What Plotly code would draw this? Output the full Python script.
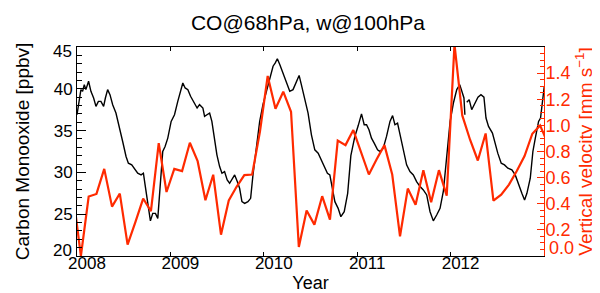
import plotly.graph_objects as go

# ---- CO @ 68 hPa (ppbv) (decimal year, value) ----
co_year = [
    2008.000, 2008.025, 2008.042, 2008.060, 2008.078, 2008.095, 2008.124, 2008.149, 2008.178, 2008.203,
    2008.229, 2008.256, 2008.285, 2008.304, 2008.328, 2008.353, 2008.382, 2008.417, 2008.454, 2008.489,
    2008.525, 2008.550, 2008.586, 2008.615, 2008.650, 2008.686, 2008.711, 2008.729, 2008.758, 2008.786,
    2008.811, 2008.840, 2008.865, 2008.894, 2008.918, 2008.943, 2008.972, 2009.008, 2009.044, 2009.079,
    2009.108, 2009.133, 2009.158, 2009.187, 2009.216, 2009.251, 2009.286, 2009.312, 2009.348, 2009.366,
    2009.394, 2009.420, 2009.444, 2009.473, 2009.498, 2009.527, 2009.552, 2009.580, 2009.608, 2009.634,
    2009.659, 2009.688, 2009.716, 2009.741, 2009.766, 2009.795, 2009.830, 2009.859, 2009.884, 2009.920,
    2009.956, 2009.991, 2010.038, 2010.074, 2010.099, 2010.123, 2010.145, 2010.171, 2010.206, 2010.241,
    2010.278, 2010.313, 2010.349, 2010.378, 2010.402, 2010.439, 2010.474, 2010.510, 2010.546, 2010.582,
    2010.617, 2010.653, 2010.681, 2010.707, 2010.732, 2010.761, 2010.796, 2010.825, 2010.861, 2010.898,
    2010.932, 2010.975, 2011.011, 2011.046, 2011.075, 2011.100, 2011.126, 2011.153, 2011.182, 2011.218,
    2011.244, 2011.279, 2011.314, 2011.351, 2011.379, 2011.404, 2011.432, 2011.458, 2011.494, 2011.529,
    2011.565, 2011.601, 2011.636, 2011.673, 2011.708, 2011.744, 2011.780, 2011.815, 2011.851, 2011.887,
    2011.923, 2011.958, 2011.995, 2012.030, 2012.066, 2012.098, 2012.127, 2012.143, 2012.153, 2012.163,
    2012.173, 2012.199, 2012.226, 2012.259, 2012.293, 2012.325, 2012.357, 2012.379, 2012.406, 2012.448,
    2012.477, 2012.505, 2012.542, 2012.577, 2012.613, 2012.656, 2012.692, 2012.727, 2012.763, 2012.792,
    2012.817, 2012.853, 2012.881, 2012.907, 2012.942, 2012.963, 2013.003,
]
co_ppbv = [
    36.9, 39.1, 39.9, 39.7, 40.5, 39.9, 40.9, 39.7, 38.9, 37.9,
    38.5, 38.5, 37.9, 38.9, 39.9, 39.3, 38.1, 37.1, 35.5, 33.7,
    31.9, 31.1, 30.9, 30.5, 29.9, 29.7, 29.9, 28.5, 26.5, 24.2,
    25.1, 25.1, 24.5, 28.9, 32.5, 33.1, 34.1, 36.1, 36.9, 38.5,
    39.7, 40.7, 40.1, 39.9, 39.1, 38.3, 37.7, 38.1, 37.7, 36.7,
    36.9, 37.1, 36.1, 34.1, 32.1, 30.7, 29.9, 30.1, 29.1, 28.7,
    29.1, 29.7, 28.9, 28.1, 26.5, 26.3, 26.5, 26.9, 29.7, 32.9,
    36.1, 38.1, 40.1, 41.5, 42.7, 43.1, 43.6, 42.9, 41.9, 40.9,
    39.7, 39.9, 40.9, 41.6, 40.5, 38.7, 37.1, 34.5, 32.7, 32.3,
    31.5, 30.7, 29.9, 29.7, 28.1, 26.5, 25.7, 24.7, 25.3, 27.5,
    32.0, 34.3, 35.6, 37.0, 35.7, 35.7, 35.1, 34.1, 33.5, 32.7,
    32.5, 32.9, 34.3, 36.1, 36.8, 35.7, 35.9, 34.5, 32.9, 30.9,
    30.1, 29.7, 28.9, 28.3, 27.9, 27.3, 25.3, 24.2, 24.9, 25.7,
    27.8, 32.1, 36.1, 38.3, 39.9, 40.5, 39.3, 38.9, 36.9, None,
    38.4, 38.7, 37.5, 38.2, 39.0, 39.3, 39.0, 36.5, 35.5, 34.7,
    33.3, 32.3, 31.1, 30.9, 30.5, 30.3, 29.7, 28.5, 27.5, 26.7,
    27.5, 29.3, 32.5, 34.1, 36.1, 36.5, 40.3,
]

# ---- Vertical velocity @ 100 hPa (mm/s), monthly, mid-month ----
w_year = [2007 + 11.5 / 12] + [y + (m - 0.5) / 12 for y in range(2008, 2013) for m in range(1, 13)] + [2013 + 0.5 / 12]
w_mms = [
    0.47,
    0.00, 0.455, 0.475, 0.667, 0.378, 0.478, 0.087, 0.26, 0.44, 0.343, 0.864, 0.49,
    0.667, 0.65, 0.867, 0.726, 0.427, 0.622, 0.163, 0.425, 0.53, 0.619, 0.624, 0.95,
    1.378, 1.127, 1.258, 1.104, 0.069, 0.348, 0.24, 0.458, 0.279, 0.884, 0.849, 0.964,
    0.80, 0.624, 0.74, 0.849, 0.624, 0.151, 0.516, 0.393, 0.657, 0.412, 0.657, 0.462,
    1.62, 1.076, 0.89, 0.731, 0.938, 0.424, 0.47, 0.547, 0.65, 0.765, 0.936, 1.0,
    0.86,
]

year_ticks = [2008, 2009, 2010, 2011, 2012]
year_labels = [str(y) for y in year_ticks]
co_range = [20, 45]
co_ticks = [25, 30, 35, 40]          # interior labels on the axis
w_range = [0.0, 1.6]
w_ticks = [0.2, 0.4, 0.6, 0.8, 1.0, 1.2, 1.4]

RED = "#ff2a00"
FONT = "Liberation Sans, Arial, Helvetica, sans-serif"

fig = go.Figure()
fig.add_trace(go.Scatter(x=co_year, y=co_ppbv, mode="lines",
                         line=dict(color="black", width=1.4), yaxis="y", showlegend=False))
fig.add_trace(go.Scatter(x=w_year, y=w_mms, mode="lines",
                         line=dict(color=RED, width=2.2), yaxis="y2", showlegend=False))

# end labels (drawn nudged inward, as in the original)
fig.add_annotation(text=str(co_range[1]), xref="paper", x=0, yref="y", y=co_range[1],
                   xanchor="right", yanchor="middle", xshift=-3, yshift=-4,
                   showarrow=False, font=dict(size=17, color="black"))
fig.add_annotation(text=str(co_range[0]), xref="paper", x=0, yref="y", y=co_range[0],
                   xanchor="right", yanchor="middle", xshift=-3, yshift=6,
                   showarrow=False, font=dict(size=17, color="black"))
fig.add_annotation(text=f"{w_range[0]:.1f}", xref="paper", x=1, yref="y2", y=w_range[0],
                   xanchor="left", yanchor="middle", xshift=3, yshift=8,
                   showarrow=False, font=dict(size=18, color=RED))

fig.update_layout(
    width=600, height=293,
    margin=dict(l=69, r=64, t=39, b=45),
    paper_bgcolor="white", plot_bgcolor="white",
    font=dict(family=FONT, size=17, color="black"),
    title=dict(text="CO@68hPa, w@100hPa", x=0.5, xanchor="center",
               y=1 - 15 / 293, yanchor="middle", yref="container",
               font=dict(size=21, color="black")),
    xaxis=dict(range=[2008, 2013], tickvals=year_ticks, ticktext=year_labels,
               ticks="inside", ticklen=4, tickcolor="black", showline=True,
               linecolor="black", linewidth=1, mirror="ticks", showgrid=False,
               zeroline=False, ticklabelshift=10, ticklabelstandoff=-8,
               title=dict(text="Year", standoff=2, font=dict(size=18)),
               automargin=False),
    yaxis=dict(range=co_range, tickvals=co_ticks, ticks="inside", ticklen=9,
               tickcolor="black", showline=True, linecolor="black", linewidth=1,
               showgrid=False, zeroline=False,
               minor=dict(dtick=1, ticks="inside", ticklen=5, tickcolor="black"),
               title=dict(text="Carbon Monooxide [ppbv]", standoff=19, font=dict(size=19)),
               automargin=False),
    yaxis2=dict(range=w_range, tickvals=w_ticks, tickformat=".1f", side="right",
                overlaying="y", ticks="inside", ticklen=7, tickcolor=RED,
                showline=True, linecolor=RED, linewidth=1, showgrid=False,
                zeroline=False, tickfont=dict(color=RED, size=18),
                ticklabelstandoff=-3,
                minor=dict(dtick=0.05, ticks="inside", ticklen=4, tickcolor=RED),
                title=dict(text="Vertical velocity [mm s<sup>−1</sup>]", standoff=9,
                           font=dict(size=19, color=RED)),
                automargin=False),
)

fig.write_html("out.html")
